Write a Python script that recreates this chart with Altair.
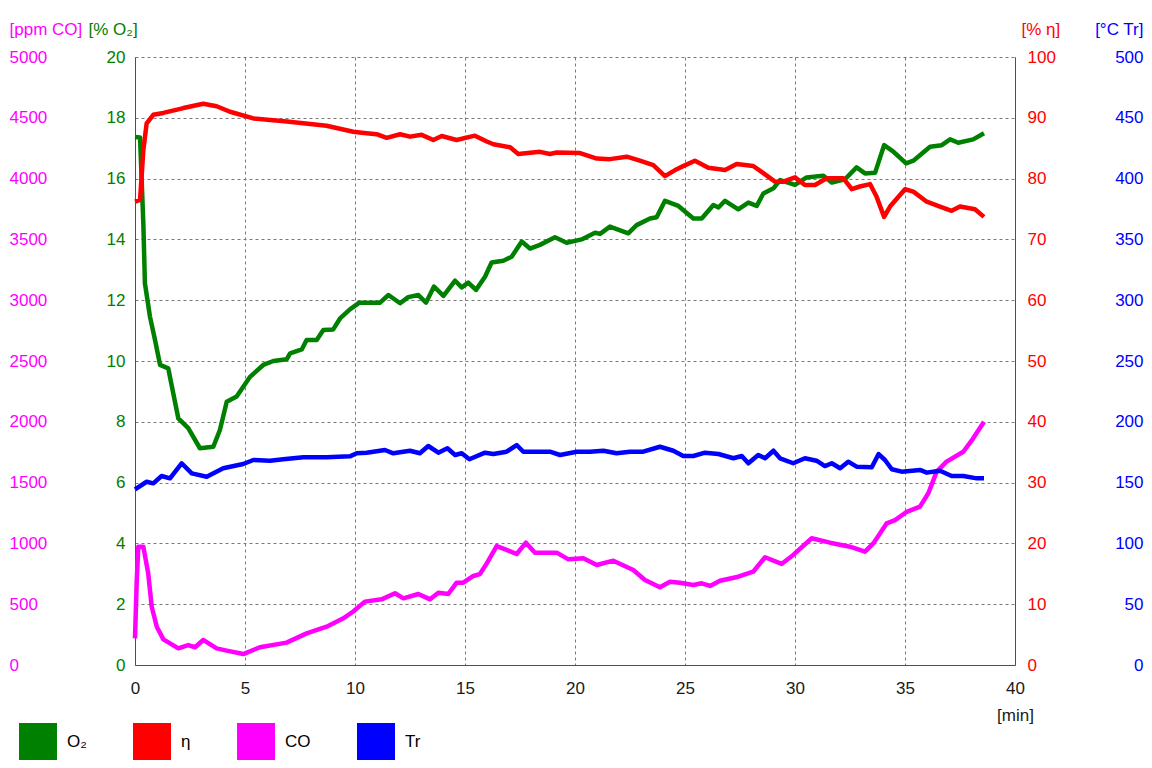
import altair as alt
import pandas as pd

FONT = "Liberation Sans"

# ---- data ----
series_names = ["O₂", "η", "CO", "Tr"]
series_colors = ["#008000", "#FF0000", "#FF00FF", "#0000FF"]

o2_t = [0, 0.23, 0.38, 0.45, 0.68, 0.91, 1.14, 1.51, 1.97, 2.42, 2.95, 3.56, 3.86, 4.17, 4.62,
        5.23, 5.83, 6.29, 6.9, 7.05, 7.58, 7.8, 8.26, 8.56, 9.01, 9.32, 9.77, 10.2, 11.14, 11.52,
        12.05, 12.42, 12.88, 13.23, 13.59, 14.02, 14.55, 14.85, 15.15, 15.5, 15.91, 16.21, 16.74,
        17.12, 17.58, 17.95, 18.41, 19.09, 19.62, 20.3, 20.91, 21.14, 21.59, 22.42, 22.8, 23.41,
        23.71, 24.09, 24.7, 25.38, 25.76, 26.29, 26.52, 26.82, 27.42, 27.88, 28.26, 28.56, 29.02,
        29.32, 30.0, 30.53, 31.29, 31.67, 32.27, 32.8, 33.18, 33.64, 34.05, 34.47, 35.05, 35.38,
        36.14, 36.67, 37.05, 37.42, 38.1, 38.59]
o2_v = [17.37, 17.35, 14.5, 12.56, 11.46, 10.69, 9.87, 9.76, 8.11, 7.79, 7.13, 7.18, 7.73, 8.66, 8.83,
        9.48, 9.87, 10.0, 10.06, 10.25, 10.38, 10.69, 10.69, 11.02, 11.04, 11.4, 11.7, 11.92, 11.92, 12.17,
        11.9, 12.1, 12.17, 11.92, 12.45, 12.14, 12.64, 12.42, 12.58, 12.34, 12.77, 13.24, 13.3,
        13.43, 13.93, 13.7, 13.82, 14.07, 13.89, 14.0, 14.22, 14.18, 14.42, 14.2, 14.47, 14.69,
        14.73, 15.27, 15.1, 14.69, 14.69, 15.13, 15.05, 15.27, 14.99, 15.21, 15.1, 15.51, 15.68,
        15.95, 15.79, 16.04, 16.09, 15.87, 15.98, 16.37, 16.17, 16.19, 17.1, 16.89, 16.5, 16.59,
        17.05, 17.1, 17.29, 17.18, 17.29, 17.49]

eta_t = [0, 0.23, 0.38, 0.53, 0.83, 1.29, 2.2, 3.1, 3.71, 4.32, 5.38, 6.9, 8.71, 9.92, 10.53, 10.98,
         11.44, 12.05, 12.5, 13.03, 13.56, 13.94, 14.62, 15.45, 15.99, 16.29, 17.05, 17.42, 18.41,
         18.86, 19.17, 20.23, 20.99, 21.59, 22.35, 22.95, 23.56, 24.09, 24.55, 24.77, 25.45, 26.06,
         26.82, 27.35, 28.1, 28.56, 29.09, 29.47, 30.0, 30.45, 30.91, 31.44, 32.2, 32.58, 32.95,
         33.41, 33.71, 34.05, 34.32, 35.0, 35.38, 35.99, 36.59, 37.12, 37.5, 38.18, 38.59]
eta_v = [76.2, 76.5, 84.7, 89.1, 90.5, 90.8, 91.6, 92.3, 91.9, 91.0, 89.9, 89.4, 88.7, 87.7, 87.45, 87.3,
         86.7, 87.3, 86.9, 87.2, 86.35, 87.0, 86.35, 87.06, 86.1, 85.65, 85.15, 84.05, 84.4,
         84.05, 84.3, 84.2, 83.3, 83.2, 83.6, 82.95, 82.2, 80.4, 81.4, 81.8, 82.95, 81.8,
         81.4, 82.4, 82.07, 80.9, 79.5, 79.5, 80.2, 78.95, 78.95, 80.05, 80.05, 78.25, 78.7,
         79.1, 77.0, 73.7, 75.4, 78.25, 77.85, 76.2, 75.4, 74.7, 75.4, 74.95, 73.7]

co_t = [0, 0.08, 0.15, 0.38, 0.6, 0.76, 0.99, 1.29, 1.97, 2.42, 2.73, 3.1, 3.71, 4.17, 4.92, 5.68,
        6.89, 7.8, 8.71, 9.47, 9.92, 10.45, 11.21, 11.82, 12.2, 12.88, 13.41, 13.79, 14.24, 14.62,
        14.92, 15.38, 15.68, 15.99, 16.44, 16.89, 17.35, 17.77, 18.18, 19.17, 19.7, 20.38, 20.99,
        21.74, 22.65, 23.18, 23.86, 24.32, 24.77, 25.38, 25.76, 26.14, 26.59, 27.42, 28.1, 28.64,
        29.39, 29.92, 30.76, 31.59, 32.5, 33.18, 33.56, 34.17, 34.55, 35.08, 35.68, 36.06, 36.44,
        36.89, 37.65, 38.1, 38.59]
co_v = [219, 699, 973, 973, 754, 479, 315, 211, 137, 164, 146, 206, 137, 118, 90, 146,
        184, 260, 315, 384, 440, 521, 540, 590, 548, 584, 540, 595, 584, 677,
        677, 732, 748, 836, 978, 946, 913, 1006, 924, 924, 869, 877, 822,
        858, 781, 699, 639, 685, 677, 658, 672, 650, 693, 726, 767, 886,
        831, 905, 1042, 1006, 973, 932, 1000, 1165, 1192, 1260, 1302, 1412, 1590,
        1672, 1754, 1864, 2001]

tr_t = [0, 0.53, 0.83, 1.21, 1.59, 2.12, 2.58, 3.26, 4.01, 4.92, 5.38, 6.14, 6.74, 7.65, 8.71, 9.77,
        10.08, 10.53, 11.36, 11.74, 12.5, 12.95, 13.33, 13.79, 14.2, 14.55, 14.85, 15.2, 15.91,
        16.29, 16.89, 17.35, 17.65, 18.41, 18.86, 19.32, 20.08, 20.68, 21.29, 21.89, 22.5, 23.1,
        23.86, 24.47, 24.92, 25.38, 25.91, 26.52, 27.2, 27.58, 27.88, 28.33, 28.64, 29.02, 29.32,
        29.92, 30.45, 30.98, 31.36, 31.67, 32.05, 32.42, 32.8, 33.49, 33.8, 34.09, 34.4, 34.85,
        35.68, 35.99, 36.59, 37.12, 37.65, 38.26, 38.59]
tr_v = [144.5, 150.7, 149.4, 155.4, 153.5, 165.9, 157.6, 154.8, 161.8, 165.3, 168.6, 168, 169.2, 170.8, 170.8, 171.6,
        174.1, 174.6, 176.8, 174.1, 176.2, 174.1, 180.1, 174.6, 178.2, 172.7, 174.1, 169.2, 174.6,
        173.5, 175.4, 180.9, 175.4, 175.4, 175.4, 172.7, 175.4, 175.4, 176.2, 174.1, 175.4, 175.4,
        179.5, 176.2, 171.9, 171.9, 174.6, 173.5, 170, 171.9, 165.9, 172.7, 170, 176.2, 170,
        165.9, 170, 168, 163.6, 165.9, 161.8, 167.2, 163.1, 162.6, 173.5, 168.6, 161, 159,
        160.4, 158.2, 159.8, 155.4, 155.4, 153.5, 153.5]

x_ticks = list(range(0, 41, 5))
o2_ticks = list(range(0, 21, 2))
eta_ticks = list(range(0, 101, 10))
co_ticks = list(range(0, 5001, 500))
tr_ticks = list(range(0, 501, 50))

# ---- chart ----
W, H = 880, 608
GRID = "#7a7a7a"
DOMAIN = "#505050"
FS = 17

color_scale = alt.Scale(domain=series_names, range=series_colors)


def frame(t, v, name):
    return pd.DataFrame({"t": t, "v": v, "s": name})


x_axis = alt.Axis(values=x_ticks, grid=True, gridColor=GRID, gridDash=[3, 3], gridWidth=1,
                  domain=True, domainColor=DOMAIN, ticks=False, tickSize=0, format="d",
                  labelPadding=15, labelFlush=False, labelColor="#1a1a1a", labelFontSize=FS,
                  labelFont=FONT, title="[min]", titleX=880, titleY=50, titleAlign="center",
                  titleBaseline="middle", titleFontWeight="normal", titleFontSize=FS,
                  titleFont=FONT, titleColor="#1a1a1a")
x_enc = alt.X("t:Q", scale=alt.Scale(domain=[0, 40], nice=False, zero=False), axis=x_axis)


def y_axis(orient, values, color, title, label_pad, label_align, title_x, title_align,
           grid=False, domain=False):
    return alt.Axis(orient=orient, values=values, grid=grid, gridColor=GRID, gridDash=[3, 3],
                    gridWidth=1, domain=domain, domainColor=DOMAIN, ticks=False, tickSize=0,
                    format="d", labelPadding=label_pad, labelAlign=label_align,
                    labelBaseline="middle", labelColor=color, labelFontSize=FS, labelFont=FONT,
                    labelFlush=False, title=title, titleAngle=0, titleX=title_x, titleY=-28,
                    titleAlign=title_align, titleBaseline="middle", titleColor=color,
                    titleFontSize=FS, titleFontWeight="normal", titleFont=FONT)


def line(df, color, ymax, axis):
    return alt.Chart(df).mark_line(strokeWidth=4.5, strokeJoin="round", color=color).encode(
        x=x_enc,
        y=alt.Y("v:Q", scale=alt.Scale(domain=[0, ymax], nice=False, zero=False), axis=axis),
    )


o2_layer = line(frame(o2_t, o2_v, "O₂"), series_colors[0], 20,
                y_axis("left", o2_ticks, "#008000", "[% O₂]", 10, "right", -47, "left",
                       grid=True, domain=True))
eta_layer = line(frame(eta_t, eta_v, "η"), series_colors[1], 100,
                 y_axis("right", eta_ticks, "#FF0000", "[% η]", 12, "left", 6, "left",
                        domain=True))
co_layer = line(frame(co_t, co_v, "CO"), series_colors[2], 5000,
                y_axis("left", co_ticks, "#FF00FF", "[ppm CO]", 126, "left", -126, "left"))
tr_layer = line(frame(tr_t, tr_v, "Tr"), series_colors[3], 500,
                y_axis("right", tr_ticks, "#0000FF", "[°C Tr]", 128, "right", 128, "right"))

legend_layer = alt.Chart(pd.DataFrame({"s": series_names})).transform_filter("false").mark_square(
    size=1444, filled=True, opacity=1
).encode(
    color=alt.Color("s:N", scale=color_scale,
                    legend=alt.Legend(orient="none", legendX=-116, legendY=666,
                                      direction="horizontal", title=None, symbolType="square",
                                      symbolSize=1444, symbolStrokeWidth=0, symbolOpacity=1,
                                      labelFontSize=FS, labelFont=FONT, labelColor="#000000",
                                      labelOffset=10, columnPadding=46, padding=0,
                                      rowPadding=0))
)

chart = alt.layer(o2_layer, eta_layer, co_layer, tr_layer, legend_layer).resolve_scale(
    y="independent"
).properties(
    width=W, height=H,
    autosize=alt.AutoSizeParams(type="none"),
    padding={"left": 127, "top": 49, "right": 129, "bottom": 95},
    background="white",
).configure_view(stroke="transparent")

chart.save("out.html", embed_options={"renderer": "svg", "actions": False})
